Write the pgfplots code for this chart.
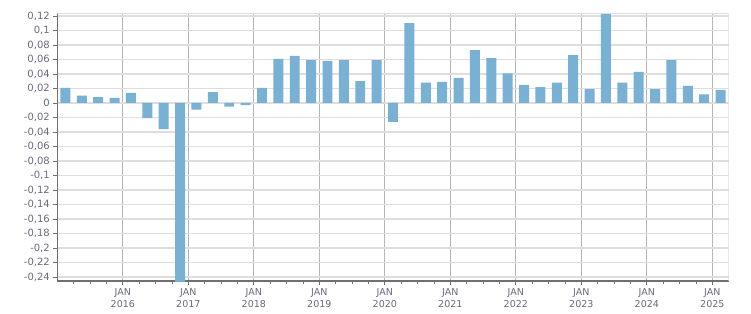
\documentclass[border=0pt]{standalone}
\usepackage{pgfplots}
\pgfplotsset{compat=1.18}
\usepackage{fontspec}
\setmainfont{DejaVu Sans}
\definecolor{barblue}{RGB}{120,177,211}
\definecolor{gridl}{RGB}{222,222,222}
\definecolor{gridv}{RGB}{180,180,180}
\definecolor{axisc}{RGB}{112,112,112}
\definecolor{labc}{RGB}{105,105,125}
\begin{document}
\begin{tikzpicture}[x=1pt,y=1pt]
\path[use as bounding box] (-57.3,-32) rectangle (693.7,281);
\begin{axis}[at={(0,0)}, anchor=south west, scale only axis,
  width=671.4pt, height=267.7pt,
  xmin=0, xmax=41, ymin=-0.2455, ymax=0.1237,
  axis x line*=bottom, axis y line*=left,
  every outer x axis line/.append style={-, draw=axisc, line width=2.2pt},
  every outer y axis line/.append style={-, draw=axisc, line width=1.2pt},
  x axis line style={-}, y axis line style={-},
  tick align=outside,
  major tick length=4pt, minor tick length=3pt,
  tick style={axisc, line width=0.8pt},
  xtick={4,8,12,16,20,24,28,32,36,40},
  minor xtick={1,2,3,5,6,7,9,10,11,13,14,15,17,18,19,21,22,23,25,26,27,29,30,31,33,34,35,37,38,39},
  xticklabels={{JAN\\2016},{JAN\\2017},{JAN\\2018},{JAN\\2019},{JAN\\2020},{JAN\\2021},{JAN\\2022},{JAN\\2023},{JAN\\2024},{JAN\\2025}},
  xticklabel style={align=center, font=\fontsize{9.5}{12.5}\selectfont, text=labc},
  ytick={-0.24,-0.22,-0.2,-0.18,-0.16,-0.14,-0.12,-0.1,-0.08,-0.06,-0.04,-0.02,0,0.02,0.04,0.06,0.08,0.1,0.12},
  yticklabels={{-0,24},{-0,22},{-0,2},{-0,18},{-0,16},{-0,14},{-0,12},{-0,1},{-0,08},{-0,06},{-0,04},{-0,02},{0},{0,02},{0,04},{0,06},{0,08},{0,1},{0,12}},
  yticklabel style={font=\fontsize{10}{12}\selectfont, text=labc},
  xmajorgrids, ymajorgrids,
  major x grid style={gridv, line width=1.2pt},
  major y grid style={gridl, line width=1.2pt},
  ybar, bar width=0.61,
]
\addplot[fill=barblue, draw=none] coordinates {
(0.5,0.021) (1.5,0.010) (2.5,0.008) (3.5,0.007)
(4.5,0.014) (5.5,-0.021) (6.5,-0.036) (7.5,-0.26)
(8.5,-0.009) (9.5,0.015) (10.5,-0.005) (11.5,-0.003)
(12.5,0.021) (13.5,0.061) (14.5,0.065) (15.5,0.059)
(16.5,0.058) (17.5,0.059) (18.5,0.030) (19.5,0.059)
(20.5,-0.026) (21.5,0.110) (22.5,0.028) (23.5,0.029)
(24.5,0.0345) (25.5,0.073) (26.5,0.062) (27.5,0.041)
(28.5,0.025) (29.5,0.022) (30.5,0.028) (31.5,0.066)
(32.5,0.019) (33.5,0.123) (34.5,0.028) (35.5,0.043)
(36.5,0.019) (37.5,0.059) (38.5,0.0235) (39.5,0.012)
(40.5,0.018)
};
\draw[gridl, line width=1.2pt] (rel axis cs:0,1) -- (rel axis cs:1,1) -- (rel axis cs:1,0);
\end{axis}
\end{tikzpicture}
\end{document}
